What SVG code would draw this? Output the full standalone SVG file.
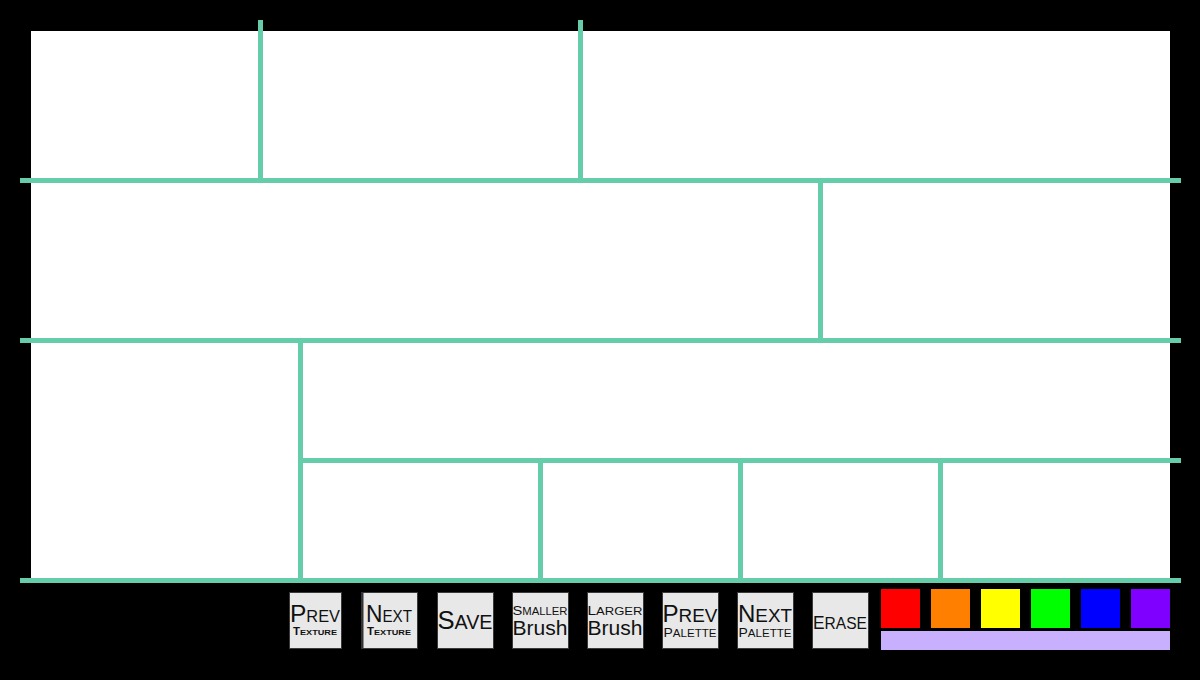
<svg xmlns="http://www.w3.org/2000/svg" width="1200" height="680" viewBox="0 0 1200 680">
<style>
.ln{stroke:#66CDAA;stroke-width:5;fill:none}
.btn{fill:#e8e8e8;stroke:#3a3a3a;stroke-width:1}
.t{font-family:"Liberation Sans",Arial,sans-serif;fill:#111;text-anchor:middle}
.b{font-weight:bold}
</style>
<rect x="0" y="0" width="1200" height="680" fill="#000"/>
<rect id="canvas" x="31" y="31" width="1139" height="549" fill="#fff"/>
<g id="connectors">
<line class="ln" x1="20" y1="180.5" x2="1181" y2="180.5"/>
<line class="ln" x1="20" y1="340.5" x2="1181" y2="340.5"/>
<line class="ln" x1="20" y1="580.5" x2="1181" y2="580.5"/>
<line class="ln" x1="300" y1="460.5" x2="1181" y2="460.5"/>
<line class="ln" x1="260.5" y1="20" x2="260.5" y2="180"/>
<line class="ln" x1="580.5" y1="20" x2="580.5" y2="180"/>
<line class="ln" x1="820.5" y1="180" x2="820.5" y2="340"/>
<line class="ln" x1="300.5" y1="340" x2="300.5" y2="580"/>
<line class="ln" x1="540.5" y1="460" x2="540.5" y2="580"/>
<line class="ln" x1="740.5" y1="460" x2="740.5" y2="580"/>
<line class="ln" x1="940.5" y1="460" x2="940.5" y2="580"/>
</g>
<g id="btn-prev-texture">
<rect class="btn" x="289.5" y="592.5" width="52" height="56"/>
<text class="t" x="315" y="622" textLength="50" lengthAdjust="spacingAndGlyphs"><tspan font-size="24">P</tspan><tspan font-size="16">REV</tspan></text>
<text class="t b" x="315" y="635" textLength="44" lengthAdjust="spacingAndGlyphs"><tspan font-size="10">T</tspan><tspan font-size="8">EXTURE</tspan></text>
</g>
<g id="btn-next-texture">
<rect class="btn" x="361.5" y="592.5" width="56" height="56"/>
<line x1="362.5" y1="592" x2="362.5" y2="649" stroke="#333" stroke-width="2"/>
<text class="t" x="389" y="622" textLength="46" lengthAdjust="spacingAndGlyphs"><tspan font-size="24">N</tspan><tspan font-size="16">EXT</tspan></text>
<text class="t b" x="389" y="635" textLength="44" lengthAdjust="spacingAndGlyphs"><tspan font-size="10">T</tspan><tspan font-size="8">EXTURE</tspan></text>
</g>
<g id="btn-save">
<rect class="btn" x="437.5" y="592.5" width="56" height="56"/>
<text class="t" x="465" y="629" textLength="55" lengthAdjust="spacingAndGlyphs"><tspan font-size="26">S</tspan><tspan font-size="20">AVE</tspan></text>
</g>
<g id="btn-smaller-brush">
<rect class="btn" x="512.5" y="592.5" width="56" height="56"/>
<text class="t" x="540" y="615" textLength="55" lengthAdjust="spacingAndGlyphs"><tspan font-size="13">S</tspan><tspan font-size="10">MALLER</tspan></text>
<text class="t" x="540" y="635" font-size="21" textLength="55" lengthAdjust="spacingAndGlyphs">Brush</text>
</g>
<g id="btn-larger-brush">
<rect class="btn" x="587.5" y="592.5" width="56" height="56"/>
<text class="t" x="615" y="615" textLength="55" lengthAdjust="spacingAndGlyphs"><tspan font-size="13">L</tspan><tspan font-size="11">ARGER</tspan></text>
<text class="t" x="615" y="635" font-size="21" textLength="55" lengthAdjust="spacingAndGlyphs">Brush</text>
</g>
<g id="btn-prev-palette">
<rect class="btn" x="662.5" y="592.5" width="56" height="56"/>
<text class="t" x="690" y="622" textLength="55" lengthAdjust="spacingAndGlyphs"><tspan font-size="23">P</tspan><tspan font-size="18">REV</tspan></text>
<text class="t" x="690" y="637" textLength="53" lengthAdjust="spacingAndGlyphs"><tspan font-size="12">P</tspan><tspan font-size="10">ALETTE</tspan></text>
</g>
<g id="btn-next-palette">
<rect class="btn" x="737.5" y="592.5" width="56" height="56"/>
<text class="t" x="765" y="622" textLength="54" lengthAdjust="spacingAndGlyphs"><tspan font-size="23">N</tspan><tspan font-size="18">EXT</tspan></text>
<text class="t" x="765" y="637" textLength="53" lengthAdjust="spacingAndGlyphs"><tspan font-size="12">P</tspan><tspan font-size="10">ALETTE</tspan></text>
</g>
<g id="btn-erase">
<rect class="btn" x="812.5" y="592.5" width="56" height="56"/>
<text class="t" x="840" y="629" textLength="54" lengthAdjust="spacingAndGlyphs"><tspan font-size="19">E</tspan><tspan font-size="17">RASE</tspan></text>
</g>
<g id="palette">
<rect x="881" y="589" width="39" height="39" fill="#ff0000"/>
<rect x="931" y="589" width="39" height="39" fill="#ff8000"/>
<rect x="981" y="589" width="39" height="39" fill="#ffff00"/>
<rect x="1031" y="589" width="39" height="39" fill="#00ff00"/>
<rect x="1081" y="589" width="39" height="39" fill="#0000ff"/>
<rect x="1131" y="589" width="39" height="39" fill="#8000ff"/>
<rect x="881" y="631" width="289" height="19" fill="#c8b0ff"/>
</g>
</svg>
